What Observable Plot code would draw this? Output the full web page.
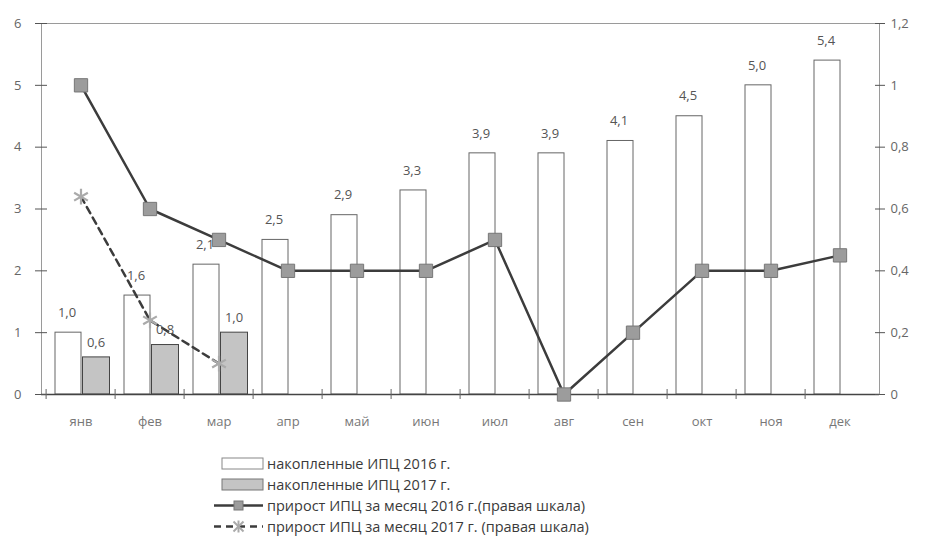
<!DOCTYPE html>
<html>
<head>
<meta charset="utf-8">
<script src="https://cdn.jsdelivr.net/npm/d3@7"></script>
<script src="https://cdn.jsdelivr.net/npm/@observablehq/plot@0.6"></script>
<style>
  body { margin: 0; background: #fff; font-family: "Open Sans", sans-serif; }
  #chart svg { display: block; }
  #legend { margin-left: 214px; margin-top: 13px; }
  .row { display: flex; align-items: center; height: 21px; font-size: 14.5px; color: #3a3a3a; }
  .row svg { margin-right: 3px; }
</style>
</head>
<body>
<div id="chart"></div>
<div id="legend"></div>
<script>
const months = ["янв","фев","мар","апр","май","июн","июл","авг","сен","окт","ноя","дек"];
const cum2016 = [1.0,1.6,2.1,2.5,2.9,3.3,3.9,3.9,4.1,4.5,5.0,5.4];
const cum2017 = [0.6,0.8,1.0];
const mom2016 = [1.0,0.6,0.5,0.4,0.4,0.4,0.5,0.0,0.2,0.4,0.4,0.45];
const mom2017 = [0.64,0.24,0.1];
const leftTicks = [0,1,2,3,4,5,6];
const rightTicks = [0,0.2,0.4,0.6,0.8,1,1.2];
const legendLabels = [
  "накопленные ИПЦ 2016 г.",
  "накопленные ИПЦ 2017 г.",
  "прирост ИПЦ за месяц 2016 г.(правая шкала)",
  "прирост ИПЦ за месяц 2017 г. (правая шкала)"
];

const ratio = 6 / 1.2; // left scale units per right scale unit
const bars16 = months.map((m, i) => ({m, v: cum2016[i]}));
const bars17 = cum2017.map((v, i) => ({m: months[i], v}));
const line16 = months.map((m, i) => ({m, v: mom2016[i] * ratio}));
const line17 = mom2017.map((v, i) => ({m: months[i], v: v * ratio}));
const fmt1 = v => v.toFixed(1).replace(".", ",");
const fmtR = v => String(+v.toFixed(1)).replace(".", ",");

const font = "Open Sans";
const chart = Plot.plot({
  width: 931,
  height: 440,
  marginLeft: 41,
  marginRight: 52,
  marginTop: 23,
  marginBottom: 46,
  style: {fontFamily: font, fontSize: "13px", color: "#666", background: "#fff"},
  x: {type: "band", domain: months, padding: 0},
  y: {domain: [0, 6]},
  marks: [
    Plot.frame({stroke: "#9a9a9a"}),
    Plot.barY(bars16, {x: "m", y: "v", fill: "#fff", stroke: "#666", insetLeft: 9, insetRight: 34}),
    Plot.barY(bars17, {x: "m", y: "v", fill: "#c4c4c4", stroke: "#444", insetLeft: 36.5, insetRight: 5.5}),
    Plot.ruleY([0], {stroke: "#444", strokeWidth: 1.5}),
    Plot.axisY({anchor: "left", ticks: leftTicks, tickFormat: d => String(d), tickSize: 6, tickPadding: 14, label: null, stroke: "#555", fill: "#666"}),
    Plot.axisY({anchor: "left", ticks: leftTicks, tickSize: -6, tickFormat: () => "", label: null, stroke: "#555"}),
    Plot.axisY({anchor: "right", ticks: rightTicks.map(d => d * ratio), tickFormat: d => fmtR(d / ratio), tickSize: 5, tickPadding: 6, label: null, stroke: "#555", fill: "#666"}),
    Plot.axisY({anchor: "right", ticks: rightTicks.map(d => d * ratio), tickSize: -5, tickFormat: () => "", label: null, stroke: "#555"}),
    Plot.axisX({tickSize: 0, tickPadding: 22, label: null, fill: "#777"}),
    Plot.axisX({tickSize: 10, dy: -5, dx: -34.9, tickFormat: () => "", label: null, stroke: "#666"}),
    Plot.line(line16, {x: "m", y: "v", stroke: "#3c3c3c", strokeWidth: 2.5}),
    Plot.dot(line16, {x: "m", y: "v", symbol: "square", r: 7.5, fill: "#9c9c9c", stroke: "#777", strokeWidth: 1}),
    Plot.line(line17, {x: "m", y: "v", stroke: "#3c3c3c", strokeWidth: 2.5, strokeDasharray: "7,5"}),
    Plot.dot(line17, {x: "m", y: "v", symbol: "asterisk", r: 7.5, stroke: "#aaa", strokeWidth: 2.2}),
    Plot.text(bars16, {x: "m", y: "v", text: d => fmt1(d.v), dx: -14, dy: -20, fill: "#555", fontSize: 13}),
    Plot.text(bars17, {x: "m", y: "v", text: d => fmt1(d.v), dx: 15, dy: -15, fill: "#555", fontSize: 13})
  ]
});
document.getElementById("chart").appendChild(chart);

// legend
const swatches = [
  `<rect x="8" y="5" width="41" height="11" fill="#fff" stroke="#888"/>`,
  `<rect x="8" y="5" width="41" height="11" fill="#c4c4c4" stroke="#777"/>`,
  `<line x1="0" y1="10.5" x2="49" y2="10.5" stroke="#3c3c3c" stroke-width="2.5"/><rect x="20" y="6" width="9" height="9" fill="#9c9c9c" stroke="#777"/>`,
  `<line x1="0" y1="10.5" x2="49" y2="10.5" stroke="#3c3c3c" stroke-width="2.5" stroke-dasharray="7,5"/><g stroke="#aaa" stroke-width="2" transform="translate(24.5,10.5)"><line x1="-5" y1="-5" x2="5" y2="5"/><line x1="-5" y1="5" x2="5" y2="-5"/><line x1="0" y1="-6" x2="0" y2="6"/></g>`
];
const legend = document.getElementById("legend");
legendLabels.forEach((lab, i) => {
  const row = document.createElement("div");
  row.className = "row";
  row.innerHTML = `<svg width="50" height="21">${swatches[i]}</svg><span>${lab}</span>`;
  legend.appendChild(row);
});
</script>
</body>
</html>
